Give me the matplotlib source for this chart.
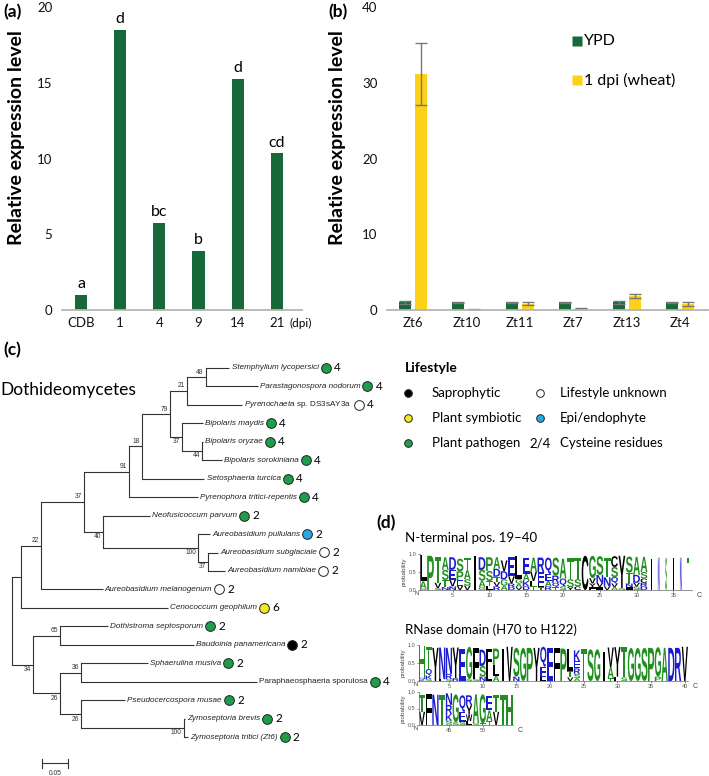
import numpy as np
import matplotlib.pyplot as plt
from matplotlib.textpath import TextPath
from matplotlib.font_manager import FontProperties
from matplotlib.patches import PathPatch
from matplotlib.transforms import Affine2D

plt.rcParams['font.family'] = ['Lato', 'DejaVu Sans']
plt.rcParams['mathtext.fontset'] = 'custom'
plt.rcParams['mathtext.it'] = 'Liberation Sans:italic'
plt.rcParams['mathtext.rm'] = 'Liberation Sans'

W, H = 709, 776

# ---- (a) expression time course
a_days = ["CDB", "1", "4", "9", "14", "21"]
a_expr = [1.0, 18.5, 5.75, 3.9, 15.25, 10.35]
a_groups = ["a", "d", "bc", "b", "d", "cd"]

# ---- (b) YPD vs 1 dpi wheat
b_genes = ["Zt6", "Zt10", "Zt11", "Zt7", "Zt13", "Zt4"]
b_ypd = [1.0, 1.0, 1.0, 1.0, 1.0, 1.0]
b_ypd_err = [0.15, 0.12, 0.12, 0.12, 0.15, 0.12]
b_wheat = [31.1, 0.1, 0.85, 0.15, 1.85, 0.75]
b_wheat_err = [4.1, 0.05, 0.2, 0.08, 0.3, 0.25]

# ---- (c) tree: tips in plotting order, branch lengths (subst./site)
tips = ["Stemphylium lycopersici", "Parastagonospora nodorum", "Pyrenochaeta sp. DS3sAY3a",
        "Bipolaris maydis", "Bipolaris oryzae", "Bipolaris sorokiniana", "Setosphaeria turcica",
        "Pyrenophora tritici-repentis", "Neofusicoccum parvum", "Aureobasidium pullulans",
        "Aureobasidium subglaciale", "Aureobasidium namibiae", "Aureobasidium melanogenum",
        "Cenococcum geophilum", "Dothistroma septosporum", "Baudoinia panamericana",
        "Sphaerulina musiva", "Paraphaeosphaeria sporulosa", "Pseudocercospora musae",
        "Zymoseptoria brevis", "Zymoseptoria tritici (Zt6)"]
tip_life = ["P", "P", "U", "P", "P", "P", "P", "P", "P", "E", "U", "U", "U", "S",
            "P", "R", "P", "P", "P", "P", "P"]
tip_cys = [4, 4, 4, 4, 4, 4, 4, 4, 2, 2, 2, 2, 2, 6, 2, 2, 2, 4, 2, 2, 2]
# (support, branch length, children); plain numbers are tip branch lengths
tree = (None, 0.0, [
    (None, 0.016, [
        ("22", 0.0375, [
            ("37", 0.081, [
                ("91", 0.084, [
                    ("18", 0.024, [
                        ("79", 0.054, [
                            ("21", 0.032, [("48", 0.034, [0.045, 0.098]), 0.103]),
                            ("37", 0.022, [0.039, ("44", 0.0375, [0.002, 0.0375])])]),
                        0.118]),
                    0.129]),
                ("40", 0.036, [0.088, ("100", 0.178, [0.0225, ("37", 0.019, [0.019, 0.032])])])]),
            0.116]),
        0.276]),
    ("34", 0.039, [
        ("65", 0.051, [0.09, 0.25]),
        ("26", 0.051, [
            ("36", 0.039, [0.126, 0.33]),
            ("26", 0.039, [0.083, ("100", 0.193, [0.002, 0.0075])])])])])

# ---- (d) sequence logos: letter + probability (%) per position, "!" = narrow column
logo1_cols = ["L72 A20 S4", "P95", "T72 V15 S5", "A35 S28 T20 N8", "D35 E28 V18 N10",
              "S35 P25 E15 V12", "T35 A25 S18 V12", "!I95", "D35 S30 A18 G8", "P38 S28 T15 L10",
              "A32 D22 T15 V12 R10", "V30 D22 G18 A12", "E55 V20 R10 D8", "L65 G12 A10 V8",
              "E45 A20 K15 D10", "A40 V25 L15 T10", "R40 E30 L12 T8", "Q45 E20 A15 R10",
              "S50 R20 Q12 T8", "A55 Q22 S10", "T58 S22 Y8", "T60 S20 C10", "C95",
              "G62 V15 Y10 F8", "S52 N22 V12 I8", "T55 N25 V10", "C30 S28 Q18 V10 A8",
              "Y90 G5", "S45 T30 N10 I8", "A50 D22 S10 V10", "A42 S18 C12 D10 R10",
              "!I85", "!N90", "!S90", "!I90", "!N90", "!T90"]
logo2_cols = ["H88 Q5 K4", "T62 Q18 K10 S5", "Y92", "N88 F5", "N72 R15 S5", "Y85 R8", "E90",
              "G90 S5", "F88 S5", "D45 S30 N12", "F60 L30", "P45 L30 A15", "!I90", "V95",
              "S80 N12", "G92", "P92", "Y92", "Q55 E30 L10", "E92", "F92", "P90",
              "L60 T18 V10", "K30 E20 R15 S12 A8", "T88", "S88", "G88", "!I80", "V55 A30 T8",
              "Y82 F12", "T85 S10", "G92", "G92", "S92", "P92", "G82 P12", "A92", "D92",
              "R92", "V95",
              "T50 V40", "F95", "N92", "T90", "N35 R28 K20 S8 G5", "G85 S8", "Q50 E30 S10",
              "R30 Y28 W20 L12", "A88 S5", "G88 T5", "E45 A32 T12", "T50 V40", "T90", "H90"]

GREEN = '#17693a'
YELLOW = '#fcd116'
LIFE_COLORS = {"P": '#1e9e4a', "U": 'white', "E": '#29a8e0', "S": '#f4ea20', "R": 'black'}
AA_COLORS = {}
for c in "LIVFYWCM":
    AA_COLORS[c] = 'black'
for c in "AGSTPH":
    AA_COLORS[c] = '#1f8f1f'
for c in "DEKRNQ":
    AA_COLORS[c] = '#1a1ad0'


def box(x0, y0, x1, y1):
    return [x0 / W, 1 - y1 / H, (x1 - x0) / W, (y1 - y0) / H]


def style_bar_axes(ax):
    for s in ['left', 'top', 'right']:
        ax.spines[s].set_visible(False)
    ax.spines['bottom'].set_color('#b5b5b5')
    ax.spines['bottom'].set_linewidth(1.3)
    ax.tick_params(axis='both', length=0, labelsize=9.5, colors='#111')
    ax.tick_params(axis='y', pad=7)
    ax.tick_params(axis='x', pad=5)
    ax.patch.set_alpha(0)


fig = plt.figure(figsize=(W / 100, H / 100), dpi=100)
ov = fig.add_axes([0, 0, 1, 1])
ov.set_xlim(0, W)
ov.set_ylim(H, 0)
ov.axis('off')

# panel letters and titles
for lab, x, y in [("(a)", 3, 12), ("(b)", 328, 12), ("(c)", 3, 350), ("(d)", 376, 523)]:
    ov.text(x, y, lab, fontsize=12.5, fontweight='bold', ha='left', va='center')
for x in [17, 337]:
    ov.text(x, 138, "Relative expression level", rotation=90, fontsize=14,
            fontweight='bold', ha='center', va='center')

# ---- (a)
axa = fig.add_axes(box(62, 7, 302, 310))
xa = np.arange(len(a_days))
axa.bar(xa, a_expr, width=0.31, color=GREEN)
for x, v, g in zip(xa, a_expr, a_groups):
    axa.annotate(g, (x, v), xytext=(0, 2.5), textcoords='offset points',
                 ha='center', va='bottom', fontsize=11.5)
axa.set_xlim(-0.485, 5.64)
axa.set_ylim(0, 20)
axa.set_xticks(xa, a_days)
axa.set_yticks([0, 5, 10, 15, 20])
style_bar_axes(axa)
ov.text(290, 323, "(dpi)", fontsize=8.5, ha='left', va='center')

# ---- (b)
axb = fig.add_axes(box(387, 7, 708, 310))
xb = np.arange(len(b_genes))
axb.bar(xb - 0.15, b_ypd, width=0.225, color=GREEN)
axb.bar(xb + 0.15, b_wheat, width=0.225, color=YELLOW)
axb.errorbar(xb - 0.15, b_ypd, yerr=b_ypd_err, fmt='none', ecolor='#777777',
             elinewidth=1, capsize=4)
axb.errorbar(xb + 0.15, b_wheat, yerr=b_wheat_err, fmt='none', ecolor='#777777',
             elinewidth=1, capsize=4)
axb.set_xlim(-0.487, 5.52)
axb.set_ylim(0, 40)
axb.set_xticks(xb, b_genes)
axb.set_yticks([0, 10, 20, 30, 40])
style_bar_axes(axb)
for lab, col, y in [("YPD", GREEN, 41), ("1 dpi (wheat)", YELLOW, 80)]:
    ov.plot(577, y, marker='s', ms=7, color=col, mec='none')
    ov.text(584, y, lab, fontsize=11.5, ha='left', va='center')

# ---- (c) tree
axt = fig.add_axes(box(12.3, 358.5, 12.3 + 533 * 0.6, 746.5))
axt.set_xlim(0, 0.6)
axt.set_ylim(20.5, -0.5)
axt.axis('off')
LW = 0.8
LC = '#333333'
tip_counter = [0]
tip_texts = []


def draw_node(node, x0, first):
    if not isinstance(node, tuple):
        i = tip_counter[0]
        tip_counter[0] += 1
        x1 = x0 + node
        axt.plot([x0, x1], [i, i], color=LC, lw=LW, solid_capstyle='butt', clip_on=False)
        name = tips[i]
        style = 'italic'
        if name.startswith("Pyrenochaeta"):
            name = r"$\it{Pyrenochaeta}$ sp. DS3sAY3a"
            style = 'normal'
        elif name.startswith("Paraphaeosphaeria"):
            style = 'normal'
        t = axt.annotate(name, (x1, i), xytext=(1.5, 0), textcoords='offset points',
                         ha='left', va='center', fontsize=5.9, family='Liberation Sans',
                         style=style, color='#222', annotation_clip=False)
        tip_texts.append(t)
        return i
    support, bl, kids = node
    x1 = x0 + bl
    ys = [draw_node(k, x1, j == 0) for j, k in enumerate(kids)]
    y = (ys[0] + ys[-1]) / 2
    axt.plot([x1, x1], [ys[0], ys[-1]], color=LC, lw=LW, clip_on=False)
    if bl > 0:
        axt.plot([x0, x1], [y, y], color=LC, lw=LW, solid_capstyle='butt', clip_on=False)
    if support:
        axt.annotate(support, (x1, y), xytext=(-1.5, 1 if first else -1),
                     textcoords='offset points', ha='right',
                     va='bottom' if first else 'top', fontsize=4.8,
                     family='Liberation Sans', color='#333', annotation_clip=False)
    return y


draw_node(tree, 0.0, True)

# scale bar
axt.plot([0.0552, 0.1052], [21.4, 21.4], color=LC, lw=LW, clip_on=False)
for xs in [0.0552, 0.1052]:
    axt.plot([xs, xs], [21.15, 21.65], color=LC, lw=LW, clip_on=False)
axt.text(0.0802, 21.95, "0.05", fontsize=4.8, family='Liberation Sans', ha='center',
         va='center', color='#333')

ov.text(0, 390, "Dothideomycetes", fontsize=12.5, ha='left', va='center')

# lifestyle circles after tip labels
fig.canvas.draw()
inv = axt.transData.inverted()
for i, t in enumerate(tip_texts):
    bb = t.get_window_extent()
    yd = axt.transData.transform((0, i))[1]
    cx, cy = inv.transform((bb.x1 + 7, yd))
    axt.plot(cx, cy, marker='o', ms=7, mfc=LIFE_COLORS[tip_life[i]], mec='#222',
             mew=0.7, clip_on=False)
    axt.annotate(str(tip_cys[i]), (cx, cy), xytext=(6, 0), textcoords='offset points',
                 ha='left', va='center', fontsize=8.5, annotation_clip=False)

# lifestyle legend
ov.text(405, 368, "Lifestyle", fontsize=10, fontweight='bold', ha='left', va='center')
legend_rows = [("R", "Saprophytic", "U", "Lifestyle unknown"),
               ("S", "Plant symbiotic", "E", "Epi/endophyte"),
               ("P", "Plant pathogen", None, "Cysteine residues")]
for r, (k1, t1, k2, t2) in enumerate(legend_rows):
    y = 393 + 25 * r
    ov.plot(408, y, marker='o', ms=5.5, mfc=LIFE_COLORS[k1], mec='#222', mew=0.7)
    ov.text(432, y, t1, fontsize=9.5, ha='left', va='center')
    if k2:
        ov.plot(540, y, marker='o', ms=5.5, mfc=LIFE_COLORS[k2], mec='#222', mew=0.7)
    else:
        ov.text(540, y, "2/4", fontsize=9.5, ha='center', va='center')
    ov.text(560, y, t2, fontsize=9.5, ha='left', va='center')

# ---- (d) logos
logo_font = FontProperties(family='Liberation Sans', weight='bold')


def parse_col(spec):
    narrow = spec.startswith('!')
    items = []
    for tok in spec.lstrip('!').split():
        items.append((tok[0], int(tok[1:]) / 100))
    return narrow, sorted(items, key=lambda it: it[1])


def draw_logo(ax, cols, start):
    for k, spec in enumerate(cols):
        pos = start + k
        narrow, items = parse_col(spec)
        wdt = 0.22 if narrow else 0.92
        y0 = 0.0
        for ch, h in items:
            tp = TextPath((0, 0), ch, size=1, prop=logo_font)
            bb = tp.get_extents()
            tr = (Affine2D().translate(-bb.x0, -bb.y0)
                  .scale(wdt / bb.width, h / bb.height)
                  .translate(pos - wdt / 2, y0))
            ax.add_patch(PathPatch(tr.transform_path(tp), fc=AA_COLORS[ch], ec='none'))
            y0 += h


def style_logo(ax, xticks):
    ax.set_ylim(0, 1)
    ax.set_yticks([0, 0.5, 1.0], ['0.0', '0.5', '1.0'])
    ax.set_xticks(xticks)
    ax.tick_params(labelsize=4, length=1.5, width=0.5, pad=1, colors='#555')
    for s in ['top', 'right']:
        ax.spines[s].set_visible(False)
    for s in ['left', 'bottom']:
        ax.spines[s].set_linewidth(0.5)
        ax.spines[s].set_color('#666')
    ax.set_ylabel('probability', fontsize=4.5, labelpad=1, color='#444',
                  family='Liberation Sans')
    ax.patch.set_alpha(0)
    ax.annotate("N", (0, 0), xycoords='axes fraction', xytext=(-2, -1),
                textcoords='offset points', fontsize=4.3, ha='center', va='top',
                color='#444', family='Liberation Sans')
    ax.annotate("C", (1, 0), xycoords='axes fraction', xytext=(5, -1.5),
                textcoords='offset points', fontsize=5, ha='center', va='top',
                color='#444', family='Liberation Sans')
    for lab in ax.get_xticklabels() + ax.get_yticklabels():
        lab.set_family('Liberation Sans')


ov.text(405, 538, "N-terminal pos. 19\u201340", fontsize=9.5, ha='left', va='center')
ov.text(405, 630, "RNase domain (H70 to H122)", fontsize=9.5, ha='left', va='center')

axl1 = fig.add_axes(box(419.5, 554, 691.8, 590))
axl1.set_xlim(0.5, len(logo1_cols) + 0.5)
draw_logo(axl1, logo1_cols, 1)
style_logo(axl1, [5, 10, 15, 20, 25, 30, 35])

axl2 = fig.add_axes(box(418.6, 645, 688.2, 681))
axl2.set_xlim(0.5, 40.5)
draw_logo(axl2, logo2_cols[:40], 1)
style_logo(axl2, [5, 10, 15, 20, 25, 30, 35, 40])

axl3 = fig.add_axes(box(418.6, 692, 418.6 + 6.74 * (len(logo2_cols) - 40), 725))
axl3.set_xlim(40.5, len(logo2_cols) + 0.5)
draw_logo(axl3, logo2_cols[40:], 41)
style_logo(axl3, [45, 50])

fig.savefig("out.png", dpi=100)
